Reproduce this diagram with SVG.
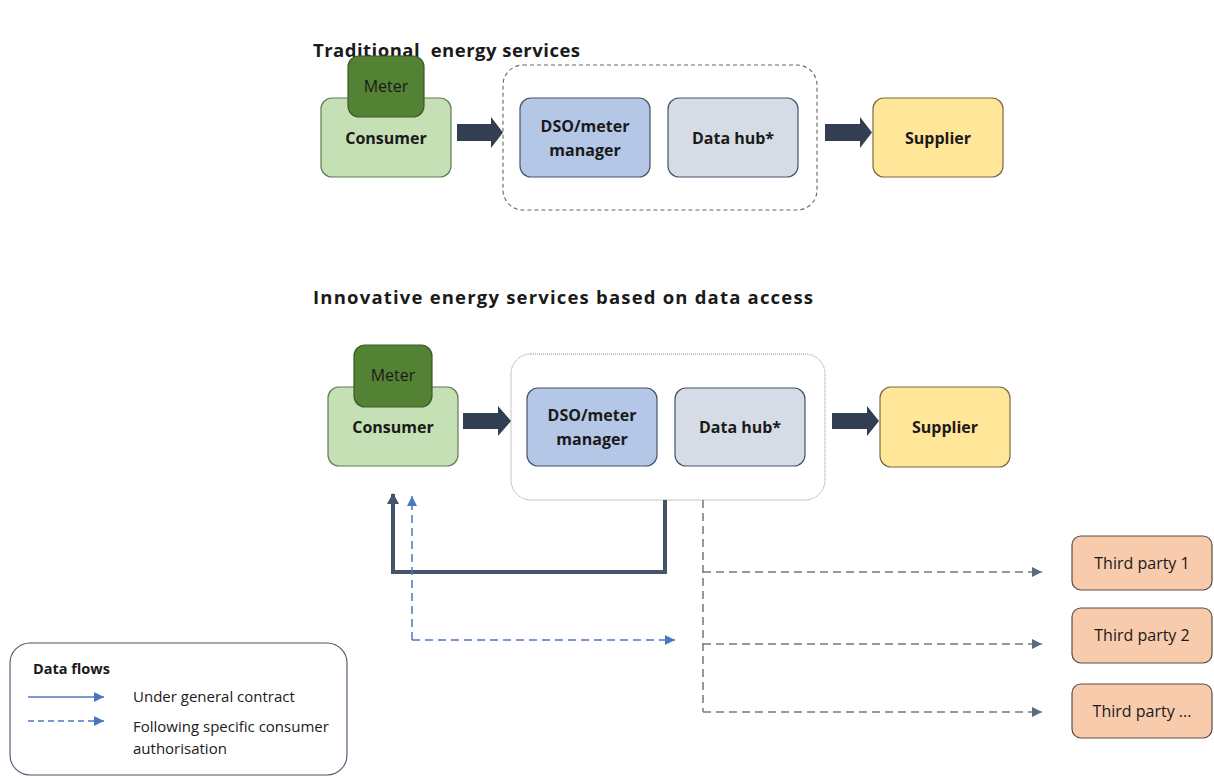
<svg xmlns="http://www.w3.org/2000/svg" width="1214" height="778" viewBox="0 0 1214 778">
<style>
  text { font-family: "Open Sans", "Liberation Sans", sans-serif; fill: #1a1a1a; }
  .title { font-size: 18.5px; font-weight: bold; white-space: pre; }
  .bold { font-size: 16px; font-weight: bold; }
  .reg { font-size: 16px; }
  .leg { font-size: 15px; }
  .consumer { fill: #c5e0b4; stroke: #5f7a55; stroke-width: 1.2; }
  .meter { fill: #548235; stroke: #3b5a26; stroke-width: 1.2; }
  .dso { fill: #b4c7e7; stroke: #46546a; stroke-width: 1.2; }
  .hub { fill: #d6dce5; stroke: #46546a; stroke-width: 1.2; }
  .supplier { fill: #ffe699; stroke: #7a6a40; stroke-width: 1.2; }
  .third { fill: #f8cbad; stroke: #5a4d45; stroke-width: 1.2; }
  .block { fill: #323f52; }
  .cont1 { fill: none; stroke: #666; stroke-width: 1.1; stroke-dasharray: 4 3; }
  .cont2 { fill: none; stroke: #8c8c8c; stroke-width: 1; stroke-dasharray: 1 1; }
  .thick { fill: none; stroke: #44546a; stroke-width: 4; }
  .blue { fill: none; stroke: #4a78c0; stroke-width: 1.5; stroke-dasharray: 8 5; }
  .gray { fill: none; stroke: #6c7a89; stroke-width: 1.5; stroke-dasharray: 8 5; }
  .legbox { fill: none; stroke: #44546a; stroke-width: 1.1; }
  .legsolid { fill: none; stroke: #4a78c0; stroke-width: 1.3; }
  .legdash { fill: none; stroke: #4a78c0; stroke-width: 1.3; stroke-dasharray: 6 4; }
</style>
<defs>
  <marker id="ahDark" markerUnits="userSpaceOnUse" markerWidth="12" markerHeight="12" refX="10" refY="6" orient="auto">
    <path d="M0,0 L11,6 L0,12 Z" fill="#44546a"/>
  </marker>
  <marker id="ahBlue" markerUnits="userSpaceOnUse" markerWidth="12" markerHeight="12" refX="10" refY="5" orient="auto">
    <path d="M0,0 L10,5 L0,10 Z" fill="#4a78c0"/>
  </marker>
  <marker id="ahGray" markerUnits="userSpaceOnUse" markerWidth="12" markerHeight="12" refX="10" refY="5" orient="auto">
    <path d="M0,0 L10,5 L0,10 Z" fill="#5c6b7c"/>
  </marker>
</defs>

<text class="title" x="313" y="57" textLength="267" lengthAdjust="spacing" xml:space="preserve">Traditional  energy services</text>
<text class="title" x="313" y="304" textLength="500" lengthAdjust="spacing">Innovative energy services based on data access</text>

<!-- Top section -->
<g id="top-container"><rect class="cont1" x="503" y="65" width="314" height="145" rx="20"/></g>
<g id="top-consumer">
  <rect class="consumer" x="321" y="98" width="130" height="79" rx="11"/>
  <text class="bold" x="386" y="144" text-anchor="middle">Consumer</text>
</g>
<g id="top-meter">
  <rect class="meter" x="348" y="56" width="76" height="61" rx="11"/>
  <text class="reg" x="386" y="92" text-anchor="middle">Meter</text>
</g>
<g id="top-dso">
  <rect class="dso" x="520" y="98" width="130" height="79" rx="11"/>
  <text class="bold" x="585" y="132" text-anchor="middle">DSO/meter</text>
  <text class="bold" x="585" y="156" text-anchor="middle">manager</text>
</g>
<g id="top-hub">
  <rect class="hub" x="668" y="98" width="130" height="79" rx="11"/>
  <text class="bold" x="733" y="144" text-anchor="middle">Data hub*</text>
</g>
<g id="top-supplier">
  <rect class="supplier" x="873" y="98" width="130" height="79" rx="11"/>
  <text class="bold" x="938" y="144" text-anchor="middle">Supplier</text>
</g>

<!-- Bottom section -->
<g id="bottom-container"><rect class="cont2" x="511" y="354" width="314" height="146" rx="20"/></g>
<g id="bottom-consumer">
  <rect class="consumer" x="328" y="387" width="130" height="79" rx="11"/>
  <text class="bold" x="393" y="433" text-anchor="middle">Consumer</text>
</g>
<g id="bottom-meter">
  <rect class="meter" x="354" y="345" width="78" height="62" rx="11"/>
  <text class="reg" x="393" y="381" text-anchor="middle">Meter</text>
</g>
<g id="bottom-dso">
  <rect class="dso" x="527" y="388" width="130" height="78" rx="11"/>
  <text class="bold" x="592" y="421" text-anchor="middle">DSO/meter</text>
  <text class="bold" x="592" y="445" text-anchor="middle">manager</text>
</g>
<g id="bottom-hub">
  <rect class="hub" x="675" y="388" width="130" height="78" rx="11"/>
  <text class="bold" x="740" y="433" text-anchor="middle">Data hub*</text>
</g>
<g id="bottom-supplier">
  <rect class="supplier" x="880" y="387" width="130" height="80" rx="11"/>
  <text class="bold" x="945" y="433" text-anchor="middle">Supplier</text>
</g>
<g id="third-party-1">
  <rect class="third" x="1072" y="536" width="140" height="54" rx="9"/>
  <text class="reg" x="1142" y="569" text-anchor="middle">Third party 1</text>
</g>
<g id="third-party-2">
  <rect class="third" x="1072" y="608" width="140" height="55" rx="9"/>
  <text class="reg" x="1142" y="641" text-anchor="middle">Third party 2</text>
</g>
<g id="third-party-n">
  <rect class="third" x="1072" y="684" width="140" height="54" rx="9"/>
  <text class="reg" x="1142" y="717" text-anchor="middle">Third party ...</text>
</g>

<!-- Connectors -->
<g id="connectors">
  <path class="block" d="M457,124 L491,124 L491,117 L503,132.5 L491,148 L491,141 L457,141 Z"/>
  <path class="block" d="M825,124 L860,124 L860,117 L872,132.5 L860,148 L860,141 L825,141 Z"/>
  <path class="block" d="M463,413 L498,413 L498,406 L511,421 L498,436 L498,429 L463,429 Z"/>
  <path class="block" d="M832,413 L867,413 L867,406 L879,421 L867,436 L867,429 L832,429 Z"/>

  <path class="thick" d="M665,500 L665,572 L393,572 L393,494" marker-end="url(#ahDark)"/>
  <path class="blue" d="M412,640 L412,496" marker-end="url(#ahBlue)"/>
  <path class="blue" d="M412,640 L675,640" marker-end="url(#ahBlue)"/>

  <path class="gray" d="M703,500 L703,712"/>
  <path class="gray" d="M703,572 L1042,572" marker-end="url(#ahGray)"/>
  <path class="gray" d="M703,644 L1042,644" marker-end="url(#ahGray)"/>
  <path class="gray" d="M703,712 L1042,712" marker-end="url(#ahGray)"/>
</g>

<!-- Legend -->
<g id="legend">
  <rect class="legbox" x="10" y="643" width="337" height="132" rx="20"/>
  <text class="bold" x="33" y="674" style="font-size:14.5px">Data flows</text>
  <path class="legsolid" d="M28,697 L104,697" marker-end="url(#ahBlue)"/>
  <path class="legdash" d="M28,721 L104,721" marker-end="url(#ahBlue)"/>
  <text class="leg" x="133" y="702">Under general contract</text>
  <text class="leg" x="133" y="732">Following specific consumer</text>
  <text class="leg" x="133" y="754">authorisation</text>
</g>
</svg>
